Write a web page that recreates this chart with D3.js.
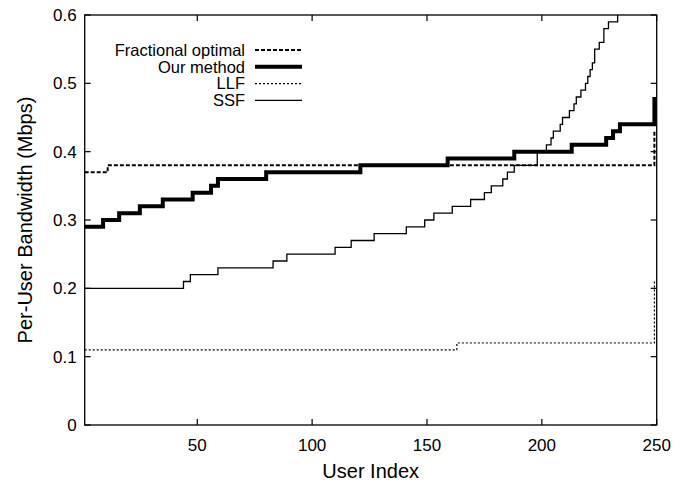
<!DOCTYPE html>
<html>
<head>
<meta charset="utf-8">
<script src="https://cdn.jsdelivr.net/npm/d3@7"></script>
<style>
  body { margin: 0; background: #fff; }
  svg text { font-family: "Liberation Sans", Arial, sans-serif; fill: #000; }
</style>
</head>
<body>
<svg id="chart" width="682" height="482"></svg>
<script>
// step points: [user index, bandwidth in Mbps]
const fractional = [[1, 0.37], [11, 0.38], [249, 0.43]]
const ourMethod = [[1, 0.29], [9, 0.30], [16, 0.31], [25, 0.32], [35, 0.33], [48, 0.34], [56, 0.35], [59, 0.36],
    [80, 0.37], [121, 0.38], [159, 0.39], [188, 0.40], [213, 0.41], [228, 0.42], [231, 0.43], [234, 0.44], [249, 0.48]]
const llf = [[1, 0.11], [163, 0.12], [249, 0.21]]
const ssf = [[1, 0.20], [44, 0.21], [47, 0.22], [59, 0.23], [83, 0.24], [89, 0.25], [110, 0.26], [117, 0.27],
    [127, 0.28], [141, 0.29], [149, 0.30], [153, 0.31], [161, 0.32], [169, 0.33], [175, 0.34], [178, 0.35],
    [183, 0.36], [185, 0.37], [188, 0.38], [198, 0.40], [202, 0.41], [204, 0.42], [205, 0.43], [208, 0.44],
    [209, 0.45], [212, 0.46], [214, 0.47], [215, 0.48], [217, 0.49], [219, 0.50], [220, 0.51], [221, 0.52],
    [222, 0.53], [223, 0.55], [225, 0.56], [227, 0.58], [229, 0.59], [233, 0.60]]

const xTicks = [50, 100, 150, 200, 250]
const yTicks = [0, 0.1, 0.2, 0.3, 0.4, 0.5, 0.6]

const series = [
    { name: "Fractional optimal", data: fractional, width: 2, dash: "4,2" },
    { name: "Our method", data: ourMethod, width: 4, dash: null },
    { name: "LLF", data: llf, width: 1.2, dash: "2,2" },
    { name: "SSF", data: ssf, width: 1.3, dash: null }
]

const plotLeft = 84.7, plotRight = 656.7, plotTop = 15, plotBottom = 425

const svg = d3.select("#chart")

const x = d3.scaleLinear().domain([1, 250]).range([plotLeft, plotRight])
const y = d3.scaleLinear().domain([0, 0.6]).range([plotBottom, plotTop])

svg.append("defs").append("clipPath").attr("id", "plot-clip")
    .append("rect").attr("x", plotLeft).attr("y", plotTop)
    .attr("width", plotRight - plotLeft).attr("height", plotBottom - plotTop)

//ticks, gnuplot style: inward, mirrored
const tickLen = 6
const axisG = svg.append("g").attr("stroke", "#000").attr("stroke-width", 1.2)
yTicks.forEach(t => {
    axisG.append("line").attr("x1", plotLeft).attr("x2", plotLeft + tickLen).attr("y1", y(t)).attr("y2", y(t))
    axisG.append("line").attr("x1", plotRight).attr("x2", plotRight - tickLen).attr("y1", y(t)).attr("y2", y(t))
})
xTicks.forEach(t => {
    axisG.append("line").attr("x1", x(t)).attr("x2", x(t)).attr("y1", plotBottom).attr("y2", plotBottom - tickLen)
    axisG.append("line").attr("x1", x(t)).attr("x2", x(t)).attr("y1", plotTop).attr("y2", plotTop + tickLen)
})

svg.append("g").selectAll("text").data(yTicks).enter().append("text")
    .attr("x", plotLeft - 8).attr("y", d => y(d)).attr("dy", "0.35em")
    .attr("text-anchor", "end").attr("font-size", 17)
    .text(d => d === 0 ? "0" : d.toFixed(1))

svg.append("g").selectAll("text").data(xTicks).enter().append("text")
    .attr("x", d => x(d)).attr("y", 445).attr("dy", "0.35em")
    .attr("text-anchor", "middle").attr("font-size", 17)
    .text(d => d)

//axis titles
svg.append("text").attr("x", (plotLeft + plotRight) / 2).attr("y", 471).attr("dy", "0.35em")
    .attr("text-anchor", "middle").attr("font-size", 20).text("User Index")
svg.append("text").attr("transform", `translate(25, ${(plotTop + plotBottom) / 2}) rotate(-90)`).attr("dy", "0.35em")
    .attr("text-anchor", "middle").attr("font-size", 20).text("Per-User Bandwidth (Mbps)")

//lines
const line = d3.line().x(d => x(d[0])).y(d => y(d[1])).curve(d3.curveStepAfter)
const lineG = svg.append("g").attr("clip-path", "url(#plot-clip)")
lineG.selectAll("path").data(series).enter().append("path")
    .attr("d", d => line(d.data))
    .attr("fill", "none")
    .attr("stroke", "#000")
    .attr("stroke-width", d => d.width)
    .attr("stroke-dasharray", d => d.dash)

//border
svg.append("rect").attr("x", plotLeft).attr("y", plotTop)
    .attr("width", plotRight - plotLeft).attr("height", plotBottom - plotTop)
    .attr("fill", "none").attr("stroke", "#000").attr("stroke-width", 1.3)

//legend
const legend = svg.append("g").selectAll("g").data(series).enter().append("g")
    .attr("transform", (d, i) => `translate(0, ${50 + i * 16.8})`)
legend.append("text").attr("x", 245).attr("dy", "0.35em").attr("text-anchor", "end").attr("font-size", 16.5)
    .text(d => d.name)
legend.append("line").attr("x1", 255).attr("x2", 302).attr("y1", 0).attr("y2", 0)
    .attr("stroke", "#000")
    .attr("stroke-width", d => d.width)
    .attr("stroke-dasharray", d => d.dash)
</script>
</body>
</html>
